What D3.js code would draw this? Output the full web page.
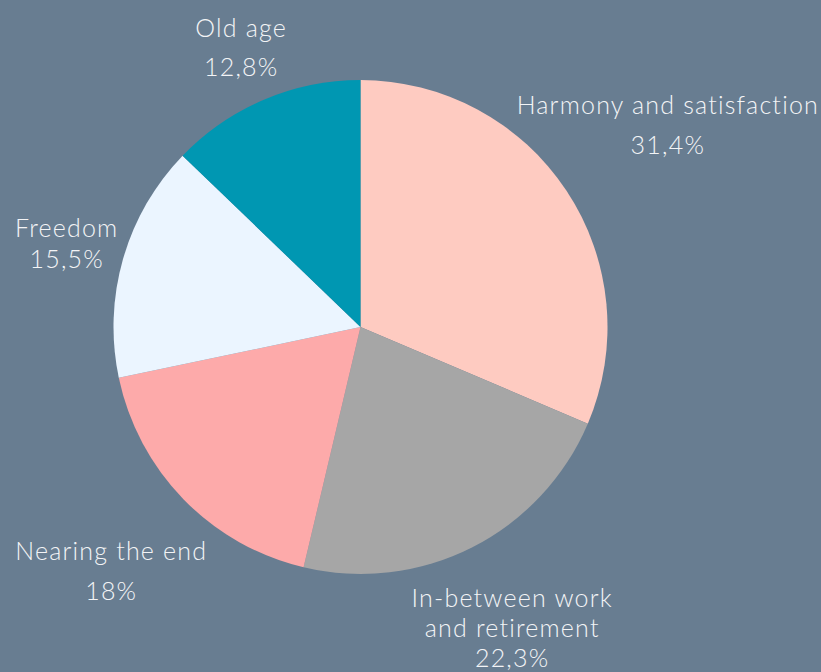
<!DOCTYPE html>
<html>
<head>
<meta charset="utf-8">
<script src="https://cdn.jsdelivr.net/npm/d3@7"></script>
<style>
  html, body { margin: 0; padding: 0; background: #687d91; }
  svg { display: block; }
</style>
</head>
<body>
<svg id="chart" width="821" height="672"></svg>
<script>
// Slices, clockwise from 12 o'clock
const categories = ["Harmony and satisfaction", "In-between work\nand retirement", "Nearing the end", "Freedom", "Old age"];
const values = [31.4, 22.3, 18, 15.5, 12.8];
const valueLabels = ["31,4%", "22,3%", "18%", "15,5%", "12,8%"];
const colors = ["#fecbc1", "#a6a6a6", "#fdaaaa", "#ebf5ff", "#0097b2"];

// Label styling (line step in px)
const lineStep = [40, 30, 40, 31, 39];

const W = 821, H = 672;
const cx = 360.5, cy = 327, r = 247;
const labelGap = 8;
const fontSize = 25;
const textColor = "#f3f4f6";
const marginLeft = 15, marginRight = 2;

const data = categories.map((c, i) => ({ name: c, value: values[i], label: valueLabels[i], color: colors[i], step: lineStep[i] }));

const svg = d3.select("#chart");
svg.append("rect").attr("width", W).attr("height", H).attr("fill", "#687d91");

const pie = d3.pie().sort(null).value(d => d.value);
const arc = d3.arc().innerRadius(0).outerRadius(r);
const arcs = pie(data);

const root = svg.append("g").attr("transform", `translate(${cx},${cy})`);
root.selectAll("path.slice")
  .data(arcs)
  .join("path")
  .attr("class", "slice")
  .attr("d", arc)
  .attr("fill", d => d.data.color);

// Labels placed outside the pie along each slice's mid-angle
const labels = svg.append("g")
  .attr("font-family", "Lato, 'Open Sans', sans-serif")
  .attr("font-weight", 300)
  .attr("font-size", fontSize)
  .attr("letter-spacing", 1.2)
  .attr("fill", textColor)
  .attr("text-anchor", "middle");

arcs.forEach(a => {
  const d = a.data;
  const lines = d.name.split("\n").concat([d.label]);
  const g = labels.append("g");
  const t = g.append("text");
  lines.forEach((ln, i) => {
    t.append("tspan").attr("x", 0).attr("y", i * d.step).text(ln);
  });
  const bb = t.node().getBBox();
  const mid = (a.startAngle + a.endAngle) / 2;
  const s = Math.sin(mid), c = Math.cos(mid);
  let dist = r + labelGap + Math.abs(s) * bb.width / 2 + Math.abs(c) * bb.height / 2;
  // keep the box inside the canvas by pulling it back along its ray
  const hw = bb.width / 2, hh = bb.height / 2;
  if (s > 0 && cx + s * dist + hw > W - marginRight) dist = (W - marginRight - hw - cx) / s;
  if (s < 0 && cx + s * dist - hw < marginLeft) dist = (cx - hw - marginLeft) / -s;
  if (c < 0 && cy - c * dist + hh > H) dist = (H - hh - cy) / -c;
  if (c > 0 && cy - c * dist - hh < 0) dist = (cy - hh) / c;
  const px = cx + s * dist, py = cy - c * dist;
  const bcx = bb.x + bb.width / 2, bcy = bb.y + bb.height / 2;
  g.attr("transform", `translate(${px - bcx},${py - bcy})`);
});
</script>
</body>
</html>
